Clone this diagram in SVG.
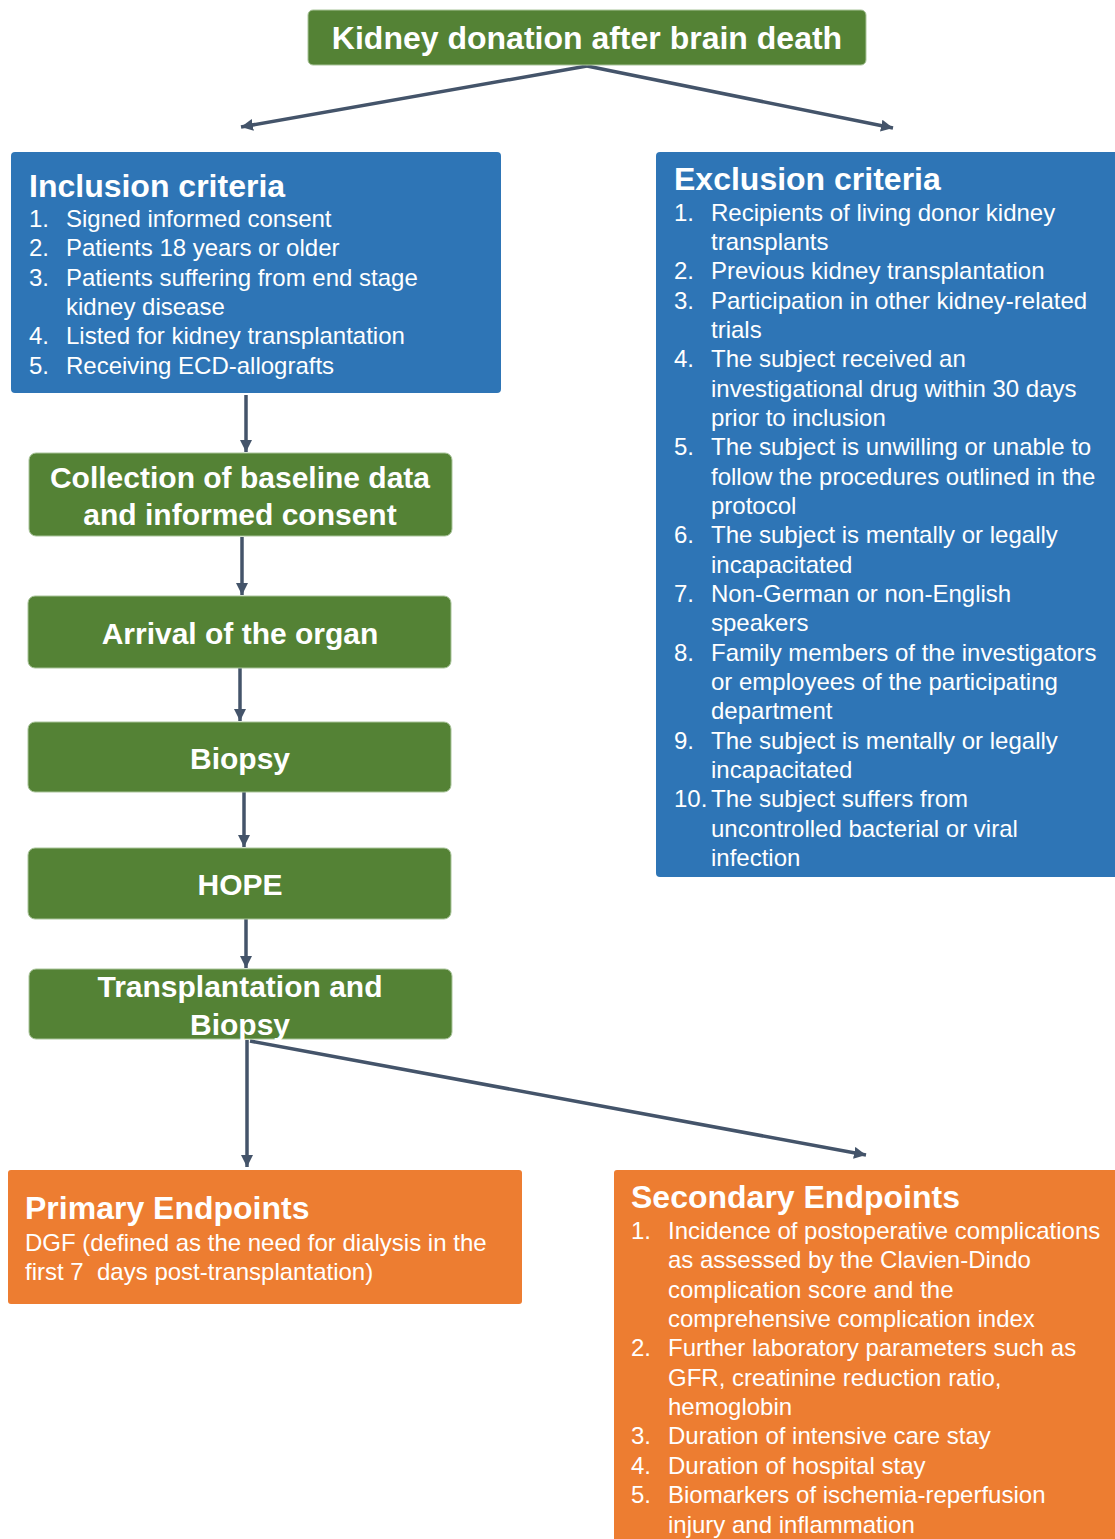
<svg xmlns="http://www.w3.org/2000/svg" width="1115" height="1539" viewBox="0 0 1115 1539">
<defs>
<style>
.g{fill:#548235;stroke:#a9c49a;stroke-width:1}
.b{fill:#2e75b6}
.o{fill:#ed7d31}
.tb{font-family:"Liberation Sans",Arial,sans-serif;font-weight:bold;fill:#fff}
.gt{font-size:30px;text-anchor:middle}
.h{font-size:32px}
.t{font-family:"Liberation Sans",Arial,sans-serif;font-size:24px;fill:#fff;white-space:pre}
.c{fill:none;stroke:#44546a;stroke-width:3.5}
</style>
<marker id="ah" markerUnits="userSpaceOnUse" markerWidth="14" markerHeight="12" refX="12" refY="6" orient="auto">
<path d="M0,0 L12,6 L0,12 Z" fill="#44546a"/>
</marker>
</defs>

<g id="connectors">
<line class="c" x1="587" y1="66" x2="241" y2="127" marker-end="url(#ah)"/>
<line class="c" x1="587" y1="66" x2="893" y2="128" marker-end="url(#ah)"/>
<line class="c" x1="246" y1="395" x2="246" y2="452" marker-end="url(#ah)"/>
<line class="c" x1="242" y1="537" x2="242" y2="595" marker-end="url(#ah)"/>
<line class="c" x1="240" y1="668" x2="240" y2="721" marker-end="url(#ah)"/>
<line class="c" x1="244" y1="792" x2="244" y2="847" marker-end="url(#ah)"/>
<line class="c" x1="246" y1="919" x2="246" y2="968" marker-end="url(#ah)"/>
<line class="c" x1="247" y1="1040" x2="247" y2="1167" marker-end="url(#ah)"/>
<line class="c" x1="250" y1="1041" x2="866" y2="1155" marker-end="url(#ah)"/>
</g>

<g id="top">
<rect class="g" x="308" y="10" width="558" height="55" rx="5"/>
<text class="tb h" x="587" y="49" text-anchor="middle">Kidney donation after brain death</text>
</g>

<g id="inclusion">
<rect class="b" x="11" y="152" width="490" height="241" rx="4"/>
<text class="tb h" x="29" y="197">Inclusion criteria</text>
<g class="t">
<text x="29" y="227">1.</text><text x="66" y="227">Signed informed consent</text>
<text x="29" y="256">2.</text><text x="66" y="256">Patients 18 years or older</text>
<text x="29" y="286">3.</text><text x="66" y="286">Patients suffering from end stage</text>
<text x="66" y="315">kidney disease</text>
<text x="29" y="344">4.</text><text x="66" y="344">Listed for kidney transplantation</text>
<text x="29" y="374">5.</text><text x="66" y="374">Receiving ECD-allografts</text>
</g>
</g>

<g id="exclusion">
<rect class="b" x="656" y="152" width="470" height="725" rx="4"/>
<text class="tb h" x="674" y="190">Exclusion criteria</text>
<g class="t">
<text x="674" y="221">1.</text><text x="711" y="221">Recipients of living donor kidney</text>
<text x="711" y="250">transplants</text>
<text x="674" y="279">2.</text><text x="711" y="279">Previous kidney transplantation</text>
<text x="674" y="309">3.</text><text x="711" y="309">Participation in other kidney-related</text>
<text x="711" y="338">trials</text>
<text x="674" y="367">4.</text><text x="711" y="367">The subject received an</text>
<text x="711" y="397">investigational drug within 30 days</text>
<text x="711" y="426">prior to inclusion</text>
<text x="674" y="455">5.</text><text x="711" y="455">The subject is unwilling or unable to</text>
<text x="711" y="485">follow the procedures outlined in the</text>
<text x="711" y="514">protocol</text>
<text x="674" y="543">6.</text><text x="711" y="543">The subject is mentally or legally</text>
<text x="711" y="573">incapacitated</text>
<text x="674" y="602">7.</text><text x="711" y="602">Non-German or non-English</text>
<text x="711" y="631">speakers</text>
<text x="674" y="661">8.</text><text x="711" y="661">Family members of the investigators</text>
<text x="711" y="690">or employees of the participating</text>
<text x="711" y="719">department</text>
<text x="674" y="749">9.</text><text x="711" y="749">The subject is mentally or legally</text>
<text x="711" y="778">incapacitated</text>
<text x="674" y="807">10.</text><text x="711" y="807">The subject suffers from</text>
<text x="711" y="837">uncontrolled bacterial or viral</text>
<text x="711" y="866">infection</text>
</g>
</g>

<g id="collection">
<rect class="g" x="29" y="453" width="423" height="83" rx="7"/>
<text class="tb gt" x="240" y="488">Collection of baseline data</text>
<text class="tb gt" x="240" y="525">and informed consent</text>
</g>

<g id="arrival">
<rect class="g" x="28" y="596" width="423" height="72" rx="7"/>
<text class="tb gt" x="240" y="644">Arrival of the organ</text>
</g>

<g id="biopsy">
<rect class="g" x="28" y="722" width="423" height="70" rx="7"/>
<text class="tb gt" x="240" y="769">Biopsy</text>
</g>

<g id="hope">
<rect class="g" x="28" y="848" width="423" height="71" rx="7"/>
<text class="tb gt" x="240" y="895">HOPE</text>
</g>

<g id="transplantation">
<rect class="g" x="29" y="969" width="423" height="70" rx="7"/>
<text class="tb gt" x="240" y="997">Transplantation and</text>
<text class="tb gt" x="240" y="1035">Biopsy</text>
</g>

<g id="primary">
<rect class="o" x="8" y="1170" width="514" height="134" rx="3"/>
<text class="tb h" x="25" y="1219">Primary Endpoints</text>
<text class="t" x="25" y="1251">DGF (defined as the need for dialysis in the</text>
<text class="t" x="25" y="1280">first 7  days post-transplantation)</text>
</g>

<g id="secondary">
<rect class="o" x="614" y="1170" width="510" height="380" rx="3"/>
<text class="tb h" x="631" y="1208">Secondary Endpoints</text>
<g class="t">
<text x="631" y="1239">1.</text><text x="668" y="1239">Incidence of postoperative complications</text>
<text x="668" y="1268">as assessed by the Clavien-Dindo</text>
<text x="668" y="1298">complication score and the</text>
<text x="668" y="1327">comprehensive complication index</text>
<text x="631" y="1356">2.</text><text x="668" y="1356">Further laboratory parameters such as</text>
<text x="668" y="1386">GFR, creatinine reduction ratio,</text>
<text x="668" y="1415">hemoglobin</text>
<text x="631" y="1444">3.</text><text x="668" y="1444">Duration of intensive care stay</text>
<text x="631" y="1474">4.</text><text x="668" y="1474">Duration of hospital stay</text>
<text x="631" y="1503">5.</text><text x="668" y="1503">Biomarkers of ischemia-reperfusion</text>
<text x="668" y="1533">injury and inflammation</text>
</g>
</g>
</svg>
